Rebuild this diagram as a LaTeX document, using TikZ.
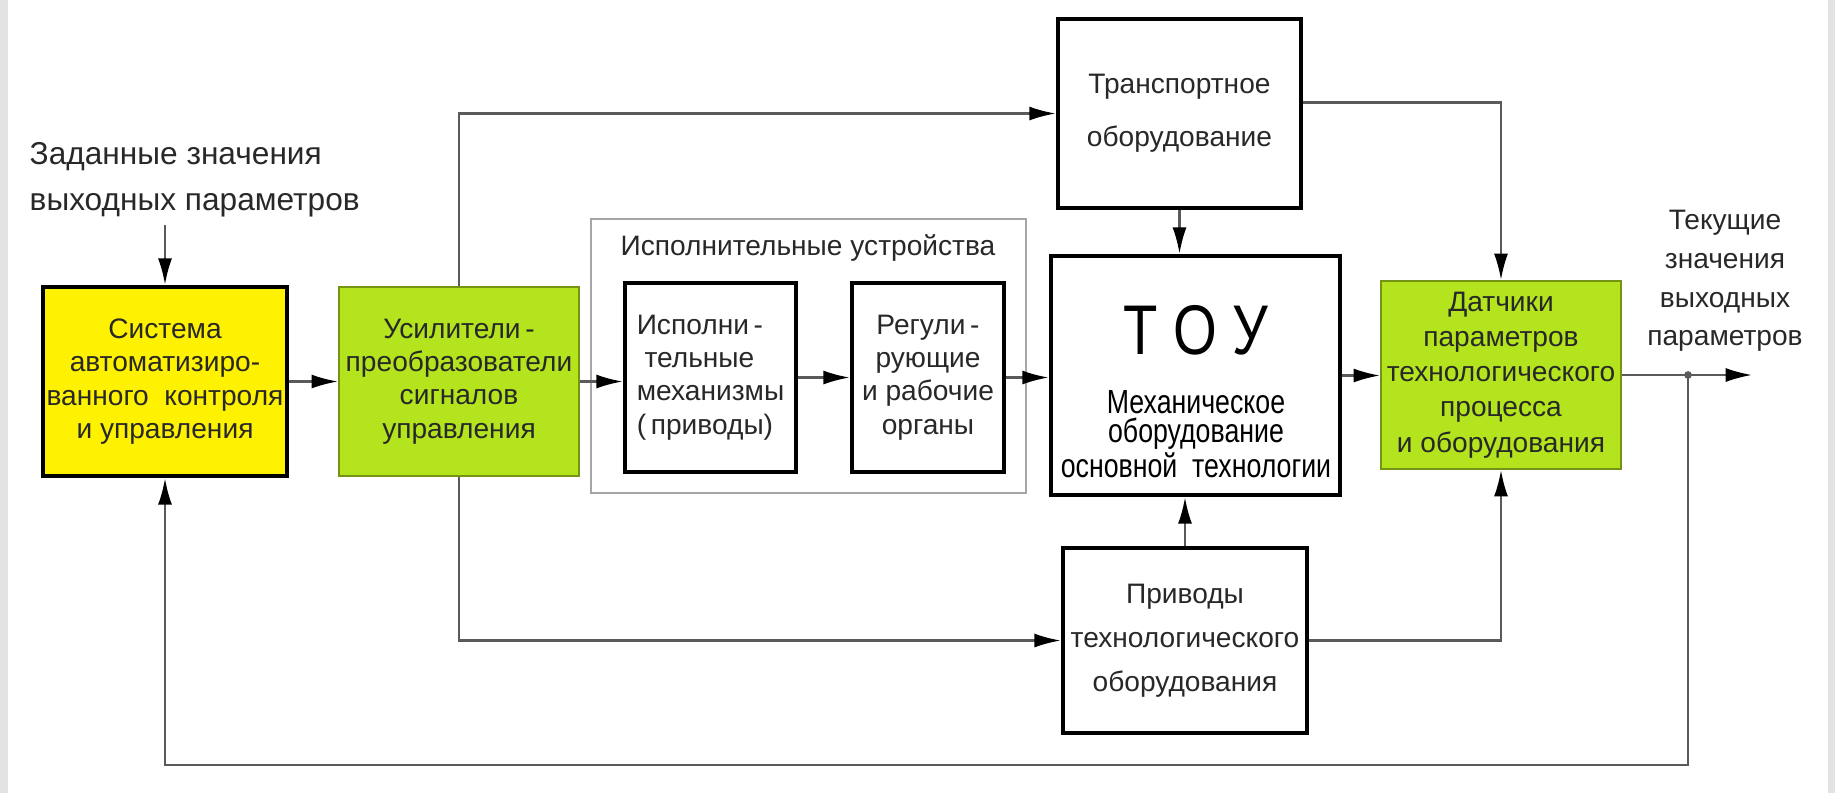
\documentclass[tikz,border=0pt]{standalone}
\usepackage{fontspec}
\setmainfont{Liberation Sans}
\newfontfamily\narrowfont[FakeStretch=0.8]{Liberation Sans}
\usetikzlibrary{arrows.meta}

\definecolor{sysyellow}{RGB}{255,242,0}
\definecolor{sensgreen}{RGB}{180,228,30}
\definecolor{linegray}{RGB}{90,90,90}
\definecolor{textgray}{RGB}{40,40,40}

\begin{document}
\begin{tikzpicture}[x=0.01cm,y=-0.01cm,
    boxtext/.style={font=\fontsize{8}{9.5}\selectfont, text=textgray, align=center, inner sep=0pt},
    blackbox/.style={boxtext, draw=black, line width=1.3pt, fill=white},
    greenbox/.style={boxtext, draw=sensgreen!65!black, line width=0.6pt, fill=sensgreen},
    yellowbox/.style={boxtext, draw=black, line width=1.3pt, fill=sysyellow},
    link/.style={draw=linegray, line width=0.6pt},
    arr/.style={link, -{Latex[black, length=7.5pt, width=4pt]}},
    outlabel/.style={font=\fontsize{8}{11}\selectfont, text=textgray, inner sep=0pt}]
    \useasboundingbox (0,0) rectangle (1835,793);
    % textured page edges
    \fill[gray!22] (0,0) rectangle (8,793);
    \fill[gray!22] (1828,0) rectangle (1835,793);

    % executive devices frame
    \draw[gray!70, line width=0.6pt] (591,219) rectangle (1026,493);
    \node[boxtext] (exectitle) at (808,248) {Исполнительные устройства};

    \node[yellowbox, minimum width=2.44cm, minimum height=1.89cm] (sys) at (165,381.5)
        {Система\\автоматизиро-\\ванного\ \ контроля\\и управления};
    \node[greenbox, minimum width=2.40cm, minimum height=1.89cm] (amp) at (459,381.5)
        {Усилители\,-\\преобразователи\\сигналов\\управления};
    \node[blackbox, minimum width=1.71cm, minimum height=1.89cm, align=left] (mech) at (710.5,377.5)
        {Исполни\,-\\\ тельные\\механизмы\\(\,приводы)};
    \node[blackbox, minimum width=1.52cm, minimum height=1.89cm] (reg) at (928,377.5)
        {Регули\,-\\рующие\\и рабочие\\органы};
    \node[blackbox, minimum width=2.89cm, minimum height=2.39cm] (tou) at (1195.5,375.5) {};
    \node[inner sep=0pt, font=\narrowfont\fontsize{20}{20}\selectfont] (toutitle) at (1196,330) {Т О У};
    \node[inner sep=0pt, align=center, font=\narrowfont\fontsize{9.5}{8.2}\selectfont] (tousub) at (1196,434)
        {Механическое\\оборудование\\основной\ \ технологии};
    \node[blackbox, minimum width=2.43cm, minimum height=1.89cm, font=\fontsize{8}{15}\selectfont] (trans) at (1179.5,113.5)
        {Транспортное\\оборудование};
    \node[greenbox, minimum width=2.40cm, minimum height=1.88cm, font=\fontsize{8}{10}\selectfont] (sens) at (1501,375)
        {Датчики\\параметров\\технологического\\процесса\\и оборудования};
    \node[blackbox, minimum width=2.44cm, minimum height=1.85cm, font=\fontsize{8}{12.5}\selectfont] (drv) at (1185,640.5)
        {Приводы\\технологического\\оборудования};

    \node[outlabel, anchor=west, align=left, font=\fontsize{9}{13}\selectfont] (setp) at (29,180)
        {Заданные значения\\выходных параметров};
    \node[outlabel, align=center] (curp) at (1725,281)
        {Текущие\\значения\\выходных\\параметров};

    \coordinate (setin) at (165,225);
    \coordinate (split) at (1688,375);
    \coordinate (out) at (1752,375);
    \coordinate (fb) at (1688,765);

    \draw[arr] (setin) -- (sys.north);
    \draw[arr] (sys.east) -- (amp.west);
    \draw[arr] (amp.east) -- (amp.east -| mech.west);
    \draw[arr] (mech.east) -- (reg.west);
    \draw[arr] (reg.east) -- (reg.east -| tou.west);
    \draw[arr] (tou.east) -- (tou.east -| sens.west);
    \draw[arr] (amp.north) |- (trans.west);
    \draw[arr] (amp.south) |- (drv.west);
    \draw[arr] (trans.south) -- (trans.south |- tou.north);
    \draw[arr] (drv.north) -- (drv.north |- tou.south);
    \draw[arr] ([yshift=1.1mm]trans.east) -| (sens.north);
    \draw[arr] (drv.east) -| (sens.south);
    \draw[arr] (sens.east) -- (out);
    \fill[linegray] (split) circle (1.1pt);
    \draw[arr] (split) -- (fb) -| (sys.south);
\end{tikzpicture}
\end{document}
